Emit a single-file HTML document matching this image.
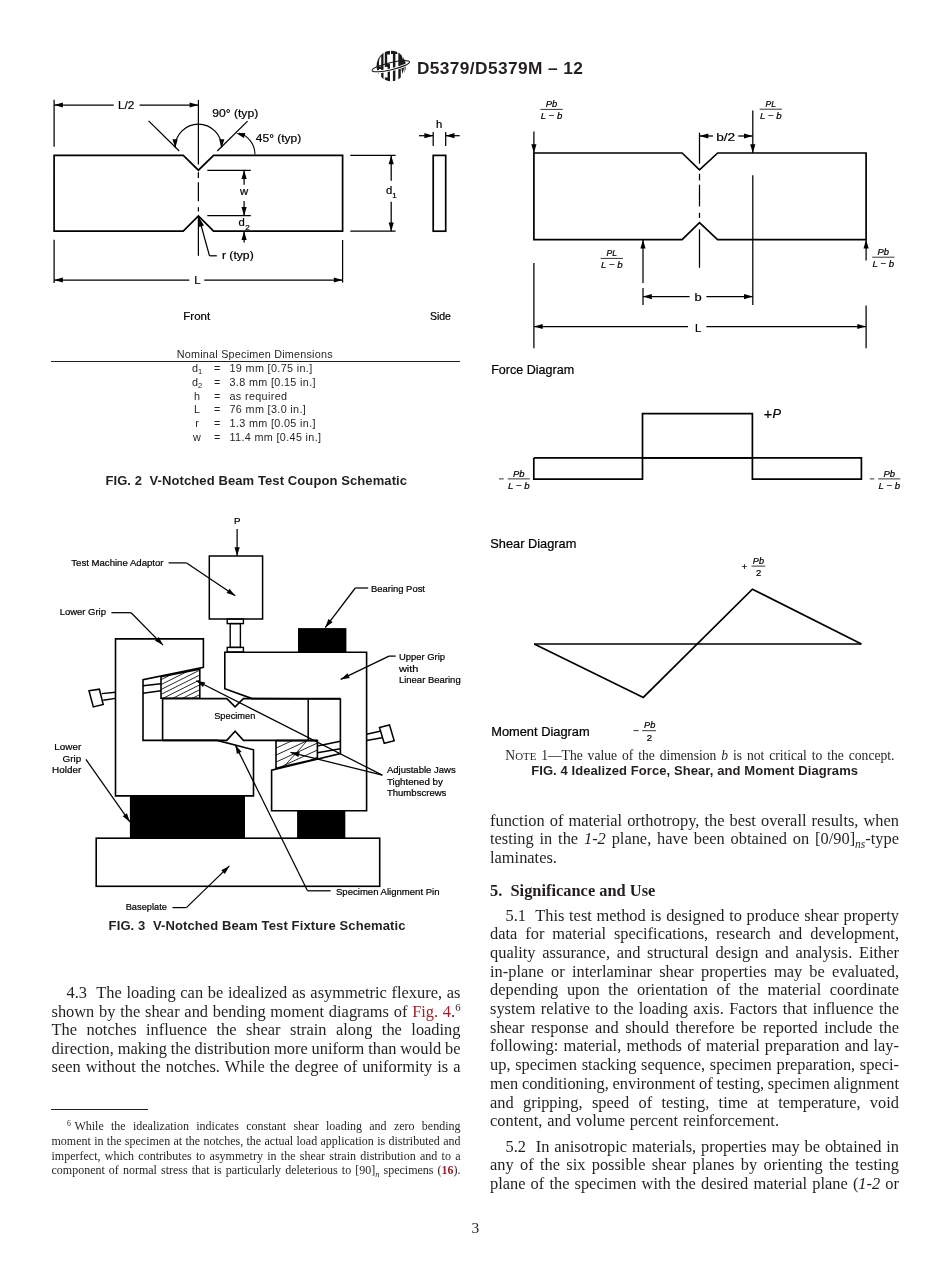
<!DOCTYPE html>
<html><head><meta charset="utf-8">
<style>
*{margin:0;padding:0;box-sizing:border-box}
html,body{width:950px;height:1272px;background:#fff;overflow:hidden}
body{position:relative;color:#231f20;font-family:"Liberation Serif",serif}
.a{position:absolute;white-space:nowrap}
#wrap{position:absolute;left:0;top:0;width:950px;height:1272px;will-change:transform}
.t{position:absolute;font-family:"Liberation Serif",serif;font-size:16.4px;line-height:18px;height:18px;white-space:nowrap;text-align:justify;text-align-last:justify}
.t.l{text-align:left;text-align-last:left}
.lc{left:51.5px;width:409px}
.rc{left:490px;width:409px}
.fn{position:absolute;font-family:"Liberation Serif",serif;font-size:12px;line-height:14px;height:14px;white-space:nowrap;text-align:justify;text-align-last:justify;left:51.5px;width:409px}
.sans{font-family:"Liberation Sans",sans-serif}
.red{color:#9e1f2a}
sup.s{font-size:0.65em;vertical-align:0;position:relative;top:-0.5em}
sub.s{font-size:0.7em;vertical-align:0;position:relative;top:0.3em}
.hd{position:absolute;font-family:"Liberation Serif",serif;font-weight:bold;font-size:16.4px;line-height:18px;height:18px;white-space:nowrap}
svg{position:absolute;left:0;top:0}
</style></head><body><div id="wrap">

<svg width="950" height="1272" viewBox="0 0 950 1272" stroke="#000" fill="none" stroke-linecap="butt">
<polygon points="54.1,155.4 183.3,155.4 198.4,170.2 213.6,155.4 342.6,155.4 342.6,231.2 213.6,231.2 198.4,216 183.2,231.2 54.1,231.2" stroke-width="1.7" fill="none"/>
<line x1="54.1" y1="99.7" x2="54.1" y2="146.8" stroke-width="1.25"/>
<line x1="113.7" y1="105" x2="54.1" y2="105" stroke-width="1.25"/>
<polygon points="54.10,105.00 62.90,102.40 62.90,107.60" fill="#000" stroke="none"/>
<line x1="139.6" y1="105" x2="198.4" y2="105" stroke-width="1.25"/>
<polygon points="198.40,105.00 189.60,107.60 189.60,102.40" fill="#000" stroke="none"/>
<text x="118" y="108.7" font-size="11.3" text-anchor="start" font-weight="normal" font-family="Liberation Sans" textLength="16.3" lengthAdjust="spacingAndGlyphs" stroke="#000" stroke-width="0.22" fill="#000">L/2</text>
<line x1="198.4" y1="100.1" x2="198.4" y2="164.5" stroke-width="1.25"/>
<line x1="198.4" y1="172.2" x2="198.4" y2="178.1" stroke-width="1.25"/>
<line x1="198.4" y1="182.3" x2="198.4" y2="201.3" stroke-width="1.25"/>
<line x1="198.4" y1="207.2" x2="198.4" y2="211.5" stroke-width="1.25"/>
<line x1="198.4" y1="216" x2="198.4" y2="255.8" stroke-width="1.25"/>
<line x1="148.6" y1="120.9" x2="179.2" y2="151" stroke-width="1.25"/>
<line x1="217.3" y1="151" x2="247.6" y2="121.1" stroke-width="1.25"/>
<path d="M175.2,147.3 A23.2,23.2 0 1 1 221.6,147.3" stroke-width="1.25" fill="none"/>
<polygon points="175.30,148.00 172.44,139.28 177.63,139.13" fill="#000" stroke="none"/>
<polygon points="221.50,148.00 219.17,139.13 224.36,139.28" fill="#000" stroke="none"/>
<text x="212.2" y="116.7" font-size="11.3" text-anchor="start" font-weight="normal" font-family="Liberation Sans" textLength="46" lengthAdjust="spacingAndGlyphs" stroke="#000" stroke-width="0.22" fill="#000">90° (typ)</text>
<path d="M255,154.6 C255,145 249,136 239,133" stroke-width="1.1" fill="none"/>
<polygon points="236.20,133.20 245.38,133.12 243.95,138.12" fill="#000" stroke="none"/>
<text x="255.8" y="141.5" font-size="11.3" text-anchor="start" font-weight="normal" font-family="Liberation Sans" textLength="45.5" lengthAdjust="spacingAndGlyphs" stroke="#000" stroke-width="0.22" fill="#000">45° (typ)</text>
<line x1="207.3" y1="170.3" x2="250.8" y2="170.3" stroke-width="1.25"/>
<line x1="207.3" y1="215.7" x2="250.8" y2="215.7" stroke-width="1.25"/>
<line x1="244.1" y1="184.8" x2="244.1" y2="170.3" stroke-width="1.25"/>
<polygon points="244.10,170.30 246.70,179.10 241.50,179.10" fill="#000" stroke="none"/>
<line x1="244.1" y1="201.1" x2="244.1" y2="215.7" stroke-width="1.25"/>
<polygon points="244.10,215.70 241.50,206.90 246.70,206.90" fill="#000" stroke="none"/>
<line x1="244.1" y1="242.5" x2="244.1" y2="231.2" stroke-width="1.25"/>
<polygon points="244.10,231.20 246.70,240.00 241.50,240.00" fill="#000" stroke="none"/>
<text x="244.1" y="195.4" font-size="11.3" text-anchor="middle" font-weight="normal" font-family="Liberation Sans" stroke="#000" stroke-width="0.22" fill="#000">w</text>
<text x="238.6" y="226.2" font-size="11.3" text-anchor="start" font-weight="normal" font-family="Liberation Sans" stroke="#000" stroke-width="0.22" fill="#000">d</text>
<text x="245.3" y="229.6" font-size="8" text-anchor="start" font-weight="normal" font-family="Liberation Sans" stroke="#000" stroke-width="0.22" fill="#000">2</text>
<line x1="198.9" y1="217.5" x2="209.5" y2="255.8" stroke-width="1.25"/>
<line x1="209.5" y1="255.8" x2="216.8" y2="255.8" stroke-width="1.25"/>
<polygon points="199.20,217.80 204.04,225.60 199.03,226.97" fill="#000" stroke="none"/>
<text x="221.9" y="258.9" font-size="11.3" text-anchor="start" font-weight="normal" font-family="Liberation Sans" textLength="31.8" lengthAdjust="spacingAndGlyphs" stroke="#000" stroke-width="0.22" fill="#000">r (typ)</text>
<line x1="54.1" y1="239.8" x2="54.1" y2="283" stroke-width="1.25"/>
<line x1="342.6" y1="240" x2="342.6" y2="282.6" stroke-width="1.25"/>
<line x1="189.3" y1="280" x2="54.1" y2="280" stroke-width="1.25"/>
<polygon points="54.10,280.00 62.90,277.40 62.90,282.60" fill="#000" stroke="none"/>
<line x1="204.2" y1="280" x2="342.6" y2="280" stroke-width="1.25"/>
<polygon points="342.60,280.00 333.80,282.60 333.80,277.40" fill="#000" stroke="none"/>
<text x="194.2" y="284.2" font-size="11.3" text-anchor="start" font-weight="normal" font-family="Liberation Sans" stroke="#000" stroke-width="0.22" fill="#000">L</text>
<line x1="350.3" y1="155.4" x2="395.6" y2="155.4" stroke-width="1.25"/>
<line x1="350.3" y1="231.2" x2="395.6" y2="231.2" stroke-width="1.25"/>
<line x1="391.2" y1="180.8" x2="391.2" y2="155.4" stroke-width="1.25"/>
<polygon points="391.20,155.40 393.80,164.20 388.60,164.20" fill="#000" stroke="none"/>
<line x1="391.2" y1="201.7" x2="391.2" y2="231.2" stroke-width="1.25"/>
<polygon points="391.20,231.20 388.60,222.40 393.80,222.40" fill="#000" stroke="none"/>
<text x="386" y="194.3" font-size="11.3" text-anchor="start" font-weight="normal" font-family="Liberation Sans" stroke="#000" stroke-width="0.22" fill="#000">d</text>
<text x="392.3" y="197.6" font-size="8" text-anchor="start" font-weight="normal" font-family="Liberation Sans" stroke="#000" stroke-width="0.22" fill="#000">1</text>
<rect x="433.2" y="155.4" width="12.5" height="75.79999999999998" stroke-width="1.7" fill="none"/>
<line x1="433.2" y1="132" x2="433.2" y2="146" stroke-width="1.25"/>
<line x1="445.7" y1="132" x2="445.7" y2="146" stroke-width="1.25"/>
<line x1="419" y1="135.7" x2="433.2" y2="135.7" stroke-width="1.25"/>
<polygon points="433.20,135.70 424.40,138.30 424.40,133.10" fill="#000" stroke="none"/>
<line x1="459.7" y1="135.7" x2="445.7" y2="135.7" stroke-width="1.25"/>
<polygon points="445.70,135.70 454.50,133.10 454.50,138.30" fill="#000" stroke="none"/>
<text x="439.2" y="127.7" font-size="11.3" text-anchor="middle" font-weight="normal" font-family="Liberation Sans" stroke="#000" stroke-width="0.22" fill="#000">h</text>
<text x="183.3" y="319.9" font-size="11.3" text-anchor="start" font-weight="normal" font-family="Liberation Sans" textLength="26.8" lengthAdjust="spacingAndGlyphs" stroke="#000" stroke-width="0.22" fill="#000">Front</text>
<text x="429.9" y="319.9" font-size="11.3" text-anchor="start" font-weight="normal" font-family="Liberation Sans" textLength="21.1" lengthAdjust="spacingAndGlyphs" stroke="#000" stroke-width="0.22" fill="#000">Side</text>
<polygon points="533.9,153 682.1,153 699.5,169.9 717.7,153 866.1,153 866.1,239.7 717.6,239.7 699.5,222.6 682.1,239.7 533.9,239.7" stroke-width="1.7" fill="none"/>
<line x1="699.5" y1="132.6" x2="699.5" y2="163.6" stroke-width="1.25"/>
<line x1="699.5" y1="173.7" x2="699.5" y2="180.4" stroke-width="1.25"/>
<line x1="699.5" y1="184.7" x2="699.5" y2="206.5" stroke-width="1.25"/>
<line x1="699.5" y1="212.8" x2="699.5" y2="217.9" stroke-width="1.25"/>
<line x1="699.5" y1="229.3" x2="699.5" y2="267.8" stroke-width="1.25"/>
<line x1="713" y1="136" x2="699.5" y2="136" stroke-width="1.25"/>
<polygon points="699.50,136.00 708.30,133.40 708.30,138.60" fill="#000" stroke="none"/>
<line x1="738.3" y1="136" x2="752.8" y2="136" stroke-width="1.25"/>
<polygon points="752.80,136.00 744.00,138.60 744.00,133.40" fill="#000" stroke="none"/>
<text x="716.2" y="140.5" font-size="11.3" text-anchor="start" font-weight="normal" font-family="Liberation Sans" textLength="19" lengthAdjust="spacingAndGlyphs" stroke="#000" stroke-width="0.22" fill="#000">b/2</text>
<line x1="533.9" y1="131.5" x2="533.9" y2="153" stroke-width="1.25"/>
<polygon points="533.90,153.00 531.30,144.20 536.50,144.20" fill="#000" stroke="none"/>
<line x1="752.8" y1="110.4" x2="752.8" y2="153" stroke-width="1.25"/>
<polygon points="752.80,153.00 750.20,144.20 755.40,144.20" fill="#000" stroke="none"/>
<line x1="752.8" y1="175.3" x2="752.8" y2="305" stroke-width="1.25"/>
<line x1="643" y1="283" x2="643" y2="239.7" stroke-width="1.25"/>
<polygon points="643.00,239.70 645.60,248.50 640.40,248.50" fill="#000" stroke="none"/>
<line x1="643" y1="288" x2="643" y2="305" stroke-width="1.25"/>
<line x1="866.1" y1="260.5" x2="866.1" y2="239.7" stroke-width="1.25"/>
<polygon points="866.10,239.70 868.70,248.50 863.50,248.50" fill="#000" stroke="none"/>
<line x1="689.6" y1="296.6" x2="643" y2="296.6" stroke-width="1.25"/>
<polygon points="643.00,296.60 651.80,294.00 651.80,299.20" fill="#000" stroke="none"/>
<line x1="706.4" y1="296.6" x2="752.8" y2="296.6" stroke-width="1.25"/>
<polygon points="752.80,296.60 744.00,299.20 744.00,294.00" fill="#000" stroke="none"/>
<text x="694.4" y="301" font-size="11.3" text-anchor="start" font-weight="normal" font-family="Liberation Sans" textLength="7.2" lengthAdjust="spacingAndGlyphs" stroke="#000" stroke-width="0.22" fill="#000">b</text>
<line x1="533.9" y1="263" x2="533.9" y2="348.3" stroke-width="1.25"/>
<line x1="866.1" y1="305.4" x2="866.1" y2="348.3" stroke-width="1.25"/>
<line x1="688" y1="326.5" x2="533.9" y2="326.5" stroke-width="1.25"/>
<polygon points="533.90,326.50 542.70,323.90 542.70,329.10" fill="#000" stroke="none"/>
<line x1="706.4" y1="326.5" x2="866.1" y2="326.5" stroke-width="1.25"/>
<polygon points="866.10,326.50 857.30,329.10 857.30,323.90" fill="#000" stroke="none"/>
<text x="695" y="331.6" font-size="11.3" text-anchor="start" font-weight="normal" font-family="Liberation Sans" stroke="#000" stroke-width="0.22" fill="#000">L</text>
<line x1="540.45" y1="109.4" x2="562.75" y2="109.4" stroke-width="0.8"/>
<text x="551.6" y="107.10000000000001" font-size="9.5" text-anchor="middle" font-weight="normal" font-family="Liberation Sans" textLength="11.5" lengthAdjust="spacingAndGlyphs" font-style="italic" stroke="#000" stroke-width="0.22" fill="#000">Pb</text>
<text x="551.6" y="119.4" font-size="9.5" text-anchor="middle" font-weight="normal" font-family="Liberation Sans" textLength="21.5" lengthAdjust="spacingAndGlyphs" font-style="italic" stroke="#000" stroke-width="0.22" fill="#000">L − b</text>
<line x1="759.65" y1="109.2" x2="781.9499999999999" y2="109.2" stroke-width="0.8"/>
<text x="770.8" y="106.9" font-size="9.5" text-anchor="middle" font-weight="normal" font-family="Liberation Sans" textLength="10.5" lengthAdjust="spacingAndGlyphs" font-style="italic" stroke="#000" stroke-width="0.22" fill="#000">PL</text>
<text x="770.8" y="119.2" font-size="9.5" text-anchor="middle" font-weight="normal" font-family="Liberation Sans" textLength="21.5" lengthAdjust="spacingAndGlyphs" font-style="italic" stroke="#000" stroke-width="0.22" fill="#000">L − b</text>
<line x1="600.65" y1="258.4" x2="622.9499999999999" y2="258.4" stroke-width="0.8"/>
<text x="611.8" y="256.09999999999997" font-size="9.5" text-anchor="middle" font-weight="normal" font-family="Liberation Sans" textLength="10.5" lengthAdjust="spacingAndGlyphs" font-style="italic" stroke="#000" stroke-width="0.22" fill="#000">PL</text>
<text x="611.8" y="268.4" font-size="9.5" text-anchor="middle" font-weight="normal" font-family="Liberation Sans" textLength="21.5" lengthAdjust="spacingAndGlyphs" font-style="italic" stroke="#000" stroke-width="0.22" fill="#000">L − b</text>
<line x1="872.15" y1="257.2" x2="894.4499999999999" y2="257.2" stroke-width="0.8"/>
<text x="883.3" y="254.89999999999998" font-size="9.5" text-anchor="middle" font-weight="normal" font-family="Liberation Sans" textLength="11.5" lengthAdjust="spacingAndGlyphs" font-style="italic" stroke="#000" stroke-width="0.22" fill="#000">Pb</text>
<text x="883.3" y="267.2" font-size="9.5" text-anchor="middle" font-weight="normal" font-family="Liberation Sans" textLength="21.5" lengthAdjust="spacingAndGlyphs" font-style="italic" stroke="#000" stroke-width="0.22" fill="#000">L − b</text>
<text x="491.2" y="374.2" font-size="12.4" text-anchor="start" font-weight="normal" font-family="Liberation Sans" textLength="83" lengthAdjust="spacingAndGlyphs" stroke="#000" stroke-width="0.22" fill="#000">Force Diagram</text>
<polyline points="533.8,457.9 533.8,479.1 642.5,479.1 642.5,413.7 752.4,413.7 752.4,479.1 861.4,479.1 861.4,457.9 533.8,457.9" stroke-width="1.7" fill="none"/>
<line x1="642.5" y1="457.9" x2="752.4" y2="457.9" stroke-width="1.7"/>
<text x="763.8" y="419" font-size="14.5" text-anchor="start" font-weight="normal" font-family="Liberation Sans" textLength="8.4" lengthAdjust="spacingAndGlyphs" stroke="#000" stroke-width="0.22" fill="#000">+</text>
<text x="772.5" y="418.3" font-size="12.8" text-anchor="start" font-weight="normal" font-family="Liberation Sans" font-style="italic" stroke="#000" stroke-width="0.22" fill="#000">P</text>
<line x1="499" y1="478.9" x2="503.7" y2="478.9" stroke-width="0.8"/>
<line x1="507.79999999999995" y1="478.9" x2="529.8" y2="478.9" stroke-width="0.8"/>
<text x="518.8" y="476.59999999999997" font-size="9.5" text-anchor="middle" font-weight="normal" font-family="Liberation Sans" textLength="11.5" lengthAdjust="spacingAndGlyphs" font-style="italic" stroke="#000" stroke-width="0.22" fill="#000">Pb</text>
<text x="518.8" y="488.9" font-size="9.5" text-anchor="middle" font-weight="normal" font-family="Liberation Sans" textLength="21.5" lengthAdjust="spacingAndGlyphs" font-style="italic" stroke="#000" stroke-width="0.22" fill="#000">L − b</text>
<line x1="869.8" y1="478.9" x2="874.3" y2="478.9" stroke-width="0.8"/>
<line x1="878.3" y1="478.9" x2="900.3" y2="478.9" stroke-width="0.8"/>
<text x="889.3" y="476.59999999999997" font-size="9.5" text-anchor="middle" font-weight="normal" font-family="Liberation Sans" textLength="11.5" lengthAdjust="spacingAndGlyphs" font-style="italic" stroke="#000" stroke-width="0.22" fill="#000">Pb</text>
<text x="889.3" y="488.9" font-size="9.5" text-anchor="middle" font-weight="normal" font-family="Liberation Sans" textLength="21.5" lengthAdjust="spacingAndGlyphs" font-style="italic" stroke="#000" stroke-width="0.22" fill="#000">L − b</text>
<text x="490.3" y="547.9" font-size="12.4" text-anchor="start" font-weight="normal" font-family="Liberation Sans" textLength="86" lengthAdjust="spacingAndGlyphs" stroke="#000" stroke-width="0.22" fill="#000">Shear Diagram</text>
<line x1="534.2" y1="644" x2="861.4" y2="644" stroke-width="1.7"/>
<polyline points="534.2,644 643.3,697.4 752.4,589.2 861.4,644" stroke-width="1.7" fill="none"/>
<text x="744.4" y="569.8" font-size="9" text-anchor="middle" font-weight="normal" font-family="Liberation Sans" stroke="#000" stroke-width="0.22" fill="#000">+</text>
<line x1="751.5" y1="566.1" x2="765.3" y2="566.1" stroke-width="0.8"/>
<text x="758.4" y="564" font-size="9.5" text-anchor="middle" font-weight="normal" font-family="Liberation Sans" textLength="11.2" lengthAdjust="spacingAndGlyphs" font-style="italic" stroke="#000" stroke-width="0.22" fill="#000">Pb</text>
<text x="758.6" y="576" font-size="9.5" text-anchor="middle" font-weight="normal" font-family="Liberation Sans" stroke="#000" stroke-width="0.22" fill="#000">2</text>
<line x1="633.5" y1="730.6" x2="638.7" y2="730.6" stroke-width="0.8"/>
<line x1="642.1" y1="730.7" x2="656" y2="730.7" stroke-width="0.8"/>
<text x="649.7" y="728.4" font-size="9.5" text-anchor="middle" font-weight="normal" font-family="Liberation Sans" textLength="11.2" lengthAdjust="spacingAndGlyphs" font-style="italic" stroke="#000" stroke-width="0.22" fill="#000">Pb</text>
<text x="649.5" y="740.5" font-size="9.5" text-anchor="middle" font-weight="normal" font-family="Liberation Sans" stroke="#000" stroke-width="0.22" fill="#000">2</text>
<text x="491.2" y="735.5" font-size="12.4" text-anchor="start" font-weight="normal" font-family="Liberation Sans" textLength="98.5" lengthAdjust="spacingAndGlyphs" stroke="#000" stroke-width="0.22" fill="#000">Moment Diagram</text>
<rect x="209.3" y="556" width="53.3" height="63" stroke-width="1.5" fill="none"/>
<line x1="237.1" y1="528.9" x2="237.1" y2="556" stroke-width="1.25"/>
<polygon points="237.10,556.00 234.50,547.20 239.70,547.20" fill="#000" stroke="none"/>
<text x="237.3" y="523.5" font-size="9.8" text-anchor="middle" font-weight="normal" font-family="Liberation Sans" stroke="#000" stroke-width="0.22" fill="#000">P</text>
<rect x="227.2" y="619" width="16.2" height="4.6" stroke-width="1.4" fill="none"/>
<rect x="230.2" y="623.6" width="10.2" height="23.8" stroke-width="1.4" fill="none"/>
<rect x="227.2" y="647.4" width="16.2" height="4.6" stroke-width="1.4" fill="none"/>
<polygon points="115.5,638.9 203.4,638.9 203.4,667.4 143,679.7 143,740.4 217.2,740.4 253.5,749.8 253.5,795.9 115.5,795.9" stroke-width="1.6" fill="none"/>
<rect x="129.9" y="795.9" width="115.1" height="42.3" stroke-width="0" fill="#000"/>
<rect x="96.2" y="838.2" width="283.5" height="48.1" stroke-width="1.6" fill="none"/>
<rect x="297.1" y="810.8" width="48.2" height="27.4" stroke-width="0" fill="#000"/>
<rect x="298" y="628.1" width="48.4" height="24" stroke-width="0" fill="#000"/>
<polygon points="224.8,652.2 366.6,652.2 366.6,810.8 271.6,810.8 271.6,770.2 340.4,753.5 340.4,699 252.1,698.6 224.8,688.7" stroke-width="1.6" fill="none"/>
<polyline points="162.6,698.6 226.8,698.6 235.1,706.8 243.4,698.6 340.4,698.6" stroke-width="1.6" fill="none"/>
<polyline points="162.6,698.6 162.6,740.4" stroke-width="1.6" fill="none"/>
<polyline points="162.6,740.4 226.8,740.4 235.1,731.3 243.4,740.4 317.4,740.4" stroke-width="1.6" fill="none"/>
<line x1="308.2" y1="698.6" x2="308.2" y2="740.4" stroke-width="1.5"/>
<polyline points="161,676.6 199.8,669.3 199.8,698.2 161,698.2 161,676.6" stroke-width="1.6" fill="none"/>
<clipPath id="cj1"><polygon points="161,676.6 199.8,669.3 199.8,698.2 161,698.2"/></clipPath>
<g clip-path="url(#cj1)">
<line x1="158" y1="666.5" x2="203" y2="644.0" stroke-width="0.85"/>
<line x1="158" y1="671.4000000000001" x2="203" y2="648.9000000000001" stroke-width="0.85"/>
<line x1="158" y1="676.3000000000001" x2="203" y2="653.8000000000001" stroke-width="0.85"/>
<line x1="158" y1="681.2" x2="203" y2="658.7" stroke-width="0.85"/>
<line x1="158" y1="686.1" x2="203" y2="663.6" stroke-width="0.85"/>
<line x1="158" y1="691.0" x2="203" y2="668.5" stroke-width="0.85"/>
<line x1="158" y1="695.9000000000001" x2="203" y2="673.4000000000001" stroke-width="0.85"/>
<line x1="158" y1="700.8000000000001" x2="203" y2="678.3000000000001" stroke-width="0.85"/>
<line x1="158" y1="705.7" x2="203" y2="683.2" stroke-width="0.85"/>
<line x1="158" y1="710.6" x2="203" y2="688.1" stroke-width="0.85"/>
<line x1="158" y1="715.5" x2="203" y2="693.0" stroke-width="0.85"/>
<line x1="158" y1="720.4000000000001" x2="203" y2="697.9000000000001" stroke-width="0.85"/>
<line x1="158" y1="725.3000000000001" x2="203" y2="702.8000000000001" stroke-width="0.85"/>
</g>
<line x1="143" y1="685.8" x2="161" y2="683.7" stroke-width="1.4"/>
<line x1="143" y1="693.2" x2="161" y2="690.8" stroke-width="1.4"/>
<line x1="101.8" y1="693.6" x2="115.5" y2="692.2" stroke-width="1.4"/>
<line x1="103.2" y1="700.3" x2="115.5" y2="698.4" stroke-width="1.4"/>
<polygon points="89,690.8 99.4,689.2 103.2,704.5 93.3,706.9" stroke-width="1.5" fill="none"/>
<polyline points="276,740.6 317.4,740.6 317.4,758.7 276,768.2 276,740.6" stroke-width="1.6" fill="none"/>
<clipPath id="cj2"><polygon points="276,740.6 317.4,740.6 317.4,758.7 276,768.2"/></clipPath>
<g clip-path="url(#cj2)">
<line x1="273" y1="728.48" x2="320" y2="706.86" stroke-width="0.85"/>
<line x1="273" y1="735.48" x2="320" y2="713.86" stroke-width="0.85"/>
<line x1="273" y1="742.48" x2="320" y2="720.86" stroke-width="0.85"/>
<line x1="273" y1="749.48" x2="320" y2="727.86" stroke-width="0.85"/>
<line x1="273" y1="756.48" x2="320" y2="734.86" stroke-width="0.85"/>
<line x1="273" y1="763.48" x2="320" y2="741.86" stroke-width="0.85"/>
<line x1="273" y1="770.48" x2="320" y2="748.86" stroke-width="0.85"/>
<line x1="273" y1="777.48" x2="320" y2="755.86" stroke-width="0.85"/>
<line x1="273" y1="784.48" x2="320" y2="762.86" stroke-width="0.85"/>
<line x1="273" y1="791.48" x2="320" y2="769.86" stroke-width="0.85"/>
<line x1="284.3" y1="766.2" x2="306.2" y2="741.8" stroke-width="0.85"/>
</g>
<line x1="317.4" y1="746" x2="340.4" y2="741.3" stroke-width="1.4"/>
<line x1="317.4" y1="752.8" x2="340.4" y2="748.7" stroke-width="1.4"/>
<line x1="366.6" y1="734.2" x2="381" y2="731" stroke-width="1.4"/>
<line x1="366.6" y1="740.5" x2="382" y2="737.7" stroke-width="1.4"/>
<polygon points="379.5,727.5 389.5,725 394.2,740.8 384.2,743.3" stroke-width="1.5" fill="none"/>
<line x1="168.6" y1="562.9" x2="186.6" y2="562.9" stroke-width="1.25"/>
<line x1="186.6" y1="562.9" x2="235.3" y2="595.8" stroke-width="1.25"/>
<polygon points="235.30,595.80 226.55,593.03 229.46,588.72" fill="#000" stroke="none"/>
<text x="71.3" y="565.7" font-size="9.9" text-anchor="start" font-weight="normal" font-family="Liberation Sans" textLength="92.2" lengthAdjust="spacingAndGlyphs" stroke="#000" stroke-width="0.22" fill="#000">Test Machine Adaptor</text>
<line x1="111.4" y1="612.7" x2="131.1" y2="612.7" stroke-width="1.25"/>
<line x1="131.1" y1="612.7" x2="163" y2="645.1" stroke-width="1.25"/>
<polygon points="163.00,645.10 154.97,640.65 158.68,637.01" fill="#000" stroke="none"/>
<text x="59.7" y="615" font-size="9.9" text-anchor="start" font-weight="normal" font-family="Liberation Sans" textLength="46.3" lengthAdjust="spacingAndGlyphs" stroke="#000" stroke-width="0.22" fill="#000">Lower Grip</text>
<line x1="355.3" y1="588" x2="368.2" y2="588" stroke-width="1.25"/>
<line x1="355.3" y1="588" x2="325.2" y2="627.6" stroke-width="1.25"/>
<polygon points="325.20,627.60 328.46,619.02 332.60,622.17" fill="#000" stroke="none"/>
<text x="371" y="591.8" font-size="9.9" text-anchor="start" font-weight="normal" font-family="Liberation Sans" textLength="54" lengthAdjust="spacingAndGlyphs" stroke="#000" stroke-width="0.22" fill="#000">Bearing Post</text>
<line x1="389" y1="656.1" x2="395.7" y2="656.1" stroke-width="1.25"/>
<line x1="389" y1="656.1" x2="340.7" y2="679.4" stroke-width="1.25"/>
<polygon points="340.70,679.40 347.50,673.23 349.76,677.92" fill="#000" stroke="none"/>
<text x="398.9" y="660" font-size="9.9" text-anchor="start" font-weight="normal" font-family="Liberation Sans" textLength="46.1" lengthAdjust="spacingAndGlyphs" stroke="#000" stroke-width="0.22" fill="#000">Upper Grip</text>
<text x="398.9" y="671.8" font-size="9.9" text-anchor="start" font-weight="normal" font-family="Liberation Sans" textLength="19.5" lengthAdjust="spacingAndGlyphs" stroke="#000" stroke-width="0.22" fill="#000">with</text>
<text x="398.9" y="683.2" font-size="9.9" text-anchor="start" font-weight="normal" font-family="Liberation Sans" textLength="61.8" lengthAdjust="spacingAndGlyphs" stroke="#000" stroke-width="0.22" fill="#000">Linear Bearing</text>
<text x="81.2" y="750.1" font-size="9.9" text-anchor="end" font-weight="normal" font-family="Liberation Sans" stroke="#000" stroke-width="0.22" fill="#000">Lower</text>
<text x="81.2" y="761.7" font-size="9.9" text-anchor="end" font-weight="normal" font-family="Liberation Sans" stroke="#000" stroke-width="0.22" fill="#000">Grip</text>
<text x="81.2" y="773.3" font-size="9.9" text-anchor="end" font-weight="normal" font-family="Liberation Sans" stroke="#000" stroke-width="0.22" fill="#000">Holder</text>
<line x1="85.9" y1="759.4" x2="129.9" y2="821.9" stroke-width="1.25"/>
<polygon points="129.90,821.90 122.71,816.20 126.96,813.21" fill="#000" stroke="none"/>
<text x="125.7" y="909.9" font-size="9.9" text-anchor="start" font-weight="normal" font-family="Liberation Sans" textLength="41.2" lengthAdjust="spacingAndGlyphs" stroke="#000" stroke-width="0.22" fill="#000">Baseplate</text>
<line x1="172.5" y1="907.6" x2="186.4" y2="907.6" stroke-width="1.25"/>
<line x1="186.4" y1="907.6" x2="229.4" y2="865.9" stroke-width="1.25"/>
<polygon points="229.40,865.90 224.89,873.89 221.27,870.16" fill="#000" stroke="none"/>
<text x="214.2" y="719.2" font-size="9.9" text-anchor="start" font-weight="normal" font-family="Liberation Sans" textLength="41.1" lengthAdjust="spacingAndGlyphs" stroke="#000" stroke-width="0.22" fill="#000">Specimen</text>
<line x1="235.3" y1="744.9" x2="307.5" y2="890.8" stroke-width="1.25"/>
<polygon points="235.30,744.90 241.54,751.63 236.88,753.94" fill="#000" stroke="none"/>
<line x1="307.5" y1="890.8" x2="330.6" y2="890.8" stroke-width="1.25"/>
<text x="336" y="894.8" font-size="9.9" text-anchor="start" font-weight="normal" font-family="Liberation Sans" textLength="103.5" lengthAdjust="spacingAndGlyphs" stroke="#000" stroke-width="0.22" fill="#000">Specimen Alignment Pin</text>
<line x1="382.3" y1="775.1" x2="196.3" y2="680.8" stroke-width="1.25"/>
<polygon points="196.30,680.80 205.32,682.46 202.97,687.10" fill="#000" stroke="none"/>
<line x1="382.3" y1="775.1" x2="290.5" y2="752.4" stroke-width="1.25"/>
<polygon points="290.50,752.40 299.67,751.99 298.42,757.04" fill="#000" stroke="none"/>
<text x="386.9" y="773.2" font-size="9.9" text-anchor="start" font-weight="normal" font-family="Liberation Sans" textLength="68.8" lengthAdjust="spacingAndGlyphs" stroke="#000" stroke-width="0.22" fill="#000">Adjustable Jaws</text>
<text x="386.9" y="784.8" font-size="9.9" text-anchor="start" font-weight="normal" font-family="Liberation Sans" textLength="56" lengthAdjust="spacingAndGlyphs" stroke="#000" stroke-width="0.22" fill="#000">Tightened by</text>
<text x="386.9" y="796.4" font-size="9.9" text-anchor="start" font-weight="normal" font-family="Liberation Sans" textLength="59.5" lengthAdjust="spacingAndGlyphs" stroke="#000" stroke-width="0.22" fill="#000">Thumbscrews</text>
</svg>
<svg style="position:absolute;left:0;top:0" width="950" height="120" viewBox="0 0 950 120">
<defs><clipPath id="lc"><ellipse cx="391.2" cy="66" rx="14.6" ry="15.2"/></clipPath>
<clipPath id="lf"><rect x="360" y="66" width="60" height="30" transform="rotate(-13 390.8 66)"/></clipPath></defs>
<ellipse cx="390.8" cy="66.2" rx="19.2" ry="3.6" transform="rotate(-13 390.8 66.2)" fill="none" stroke="#1a1a1a" stroke-width="1.1"/>
<g clip-path="url(#lc)" fill="#1a1a1a">
<path d="M376,82 L376,60 Q377,52 383.5,50 L383.5,82 L381.2,82 L381.2,69 L379,69 L379,82 Z M379,66.5 L381.2,66.5 L381.2,56 Q379.3,58 379,62 Z"/>
<path d="M384.8,50 L390,50 L390,54.5 L387.2,54.5 L387.2,63.5 L390,63.5 L390,82 L384.8,82 L384.8,77.5 L387.6,77.5 L387.6,67 L384.8,67 Z"/>
<path d="M391,50 L397.3,50 L397.3,54 L395.4,54 L395.4,82 L392.9,82 L392.9,54 L391,54 Z"/>
<path d="M398.3,50 L400.5,50 L403,60 L404.5,52 L407,52 L407,82 L404.6,82 L404.6,66 L402.5,74 L400.8,66 L400.8,82 L398.3,82 Z"/>
</g>
<g clip-path="url(#lf)">
<ellipse cx="390.8" cy="66.2" rx="19.2" ry="3.6" transform="rotate(-13 390.8 66.2)" fill="none" stroke="#fff" stroke-width="2.8"/>
<ellipse cx="390.8" cy="66.2" rx="19.2" ry="3.6" transform="rotate(-13 390.8 66.2)" fill="none" stroke="#1a1a1a" stroke-width="1.1"/>
</g>
</svg>
<!-- header -->
<div class="a sans" style="left:416.9px;top:58.3px;font-size:17.3px;letter-spacing:0.41px;font-weight:bold;line-height:20px;color:#231f20">D5379/D5379M – 12</div>

<!-- left col text: baseline = top + 14 -->
<div class="t lc" style="top:983.6px;padding-left:15px">4.3&nbsp; The loading can be idealized as asymmetric flexure, as</div>
<div class="t lc" style="top:1002.6px">shown by the shear and bending moment diagrams of <span class="red">Fig. 4</span>.<sup class="s">6</sup></div>
<div class="t lc" style="top:1021.1px">The notches influence the shear strain along the loading</div>
<div class="t lc" style="top:1039.6px;word-spacing:-1px">direction, making the distribution more uniform than would be</div>
<div class="t lc" style="top:1058.1px">seen without the notches. While the degree of uniformity is a</div>

<!-- footnote -->
<div class="a" style="left:51.3px;top:1108.8px;width:97px;height:1px;background:#231f20"></div>
<div class="fn" style="top:1119px;padding-left:15.5px"><sup class="s">6</sup><span style="display:inline-block;width:3.5px"></span>While the idealization indicates constant shear loading and zero bending</div>
<div class="fn" style="top:1134px">moment in the specimen at the notches, the actual load application is distributed and</div>
<div class="fn" style="top:1148.5px">imperfect, which contributes to asymmetry in the shear strain distribution and to a</div>
<div class="fn" style="top:1163px">component of normal stress that is particularly deleterious to [90]<sub class="s"><i>n</i></sub> specimens (<b class="red">16</b>).</div>

<!-- right col text -->
<div class="t rc" style="top:811.6px">function of material orthotropy, the best overall results, when</div>
<div class="t rc" style="top:830.1px">testing in the <i>1-2</i> plane, have been obtained on [0/90]<sub class="s"><i>ns</i></sub>-type</div>
<div class="t rc l" style="top:848.6px">laminates.</div>
<div class="hd" style="left:490px;top:881.5px">5.&nbsp; Significance and Use</div>
<div class="t rc" style="top:906.5px;padding-left:15.5px">5.1&nbsp; This test method is designed to produce shear property</div>
<div class="t rc" style="top:925.2px">data for material specifications, research and development,</div>
<div class="t rc" style="top:943.9px">quality assurance, and structural design and analysis. Either</div>
<div class="t rc" style="top:962.6px">in-plane or interlaminar shear properties may be evaluated,</div>
<div class="t rc" style="top:981.3px">depending upon the orientation of the material coordinate</div>
<div class="t rc" style="top:1000.0px">system relative to the loading axis. Factors that influence the</div>
<div class="t rc" style="top:1018.7px">shear response and should therefore be reported include the</div>
<div class="t rc" style="top:1037.4px">following: material, methods of material preparation and lay-</div>
<div class="t rc" style="top:1056.1px">up, specimen stacking sequence, specimen preparation, speci-</div>
<div class="t rc" style="top:1074.8px;word-spacing:-1px">men conditioning, environment of testing, specimen alignment</div>
<div class="t rc" style="top:1093.5px">and gripping, speed of testing, time at temperature, void</div>
<div class="t rc l" style="top:1112.2px;word-spacing:0.8px">content, and volume percent reinforcement.</div>
<div class="t rc" style="top:1137.9px;padding-left:15.5px">5.2&nbsp; In anisotropic materials, properties may be obtained in</div>
<div class="t rc" style="top:1156.4px">any of the six possible shear planes by orienting the testing</div>
<div class="t rc" style="top:1174.9px">plane of the specimen with the desired material plane (<i>1-2</i> or</div>

<div class="a" style="left:51.3px;top:360.8px;width:409px;height:1px;background:#231f20"></div>
<div class="a sans" style="left:176.8px;top:349.46px;font-size:10.8px;line-height:10.8px;letter-spacing:0.22px">Nominal Specimen Dimensions</div>
<div class="a sans" style="left:180px;width:34px;text-align:center;top:363.16px;font-size:10.8px;line-height:10.8px">d<sub class="s">1</sub></div>
<div class="a sans" style="left:214px;top:363.16px;font-size:10.8px;line-height:10.8px;">=</div>
<div class="a sans" style="left:229.5px;top:363.16px;font-size:10.8px;line-height:10.8px;letter-spacing:0.35px">19 mm [0.75 in.]</div>
<div class="a sans" style="left:180px;width:34px;text-align:center;top:376.91px;font-size:10.8px;line-height:10.8px">d<sub class="s">2</sub></div>
<div class="a sans" style="left:214px;top:376.91px;font-size:10.8px;line-height:10.8px;">=</div>
<div class="a sans" style="left:229.5px;top:376.91px;font-size:10.8px;line-height:10.8px;letter-spacing:0.35px">3.8 mm [0.15 in.]</div>
<div class="a sans" style="left:180px;width:34px;text-align:center;top:390.66px;font-size:10.8px;line-height:10.8px">h</div>
<div class="a sans" style="left:214px;top:390.66px;font-size:10.8px;line-height:10.8px;">=</div>
<div class="a sans" style="left:229.5px;top:390.66px;font-size:10.8px;line-height:10.8px;letter-spacing:0.35px">as required</div>
<div class="a sans" style="left:180px;width:34px;text-align:center;top:404.41px;font-size:10.8px;line-height:10.8px">L</div>
<div class="a sans" style="left:214px;top:404.41px;font-size:10.8px;line-height:10.8px;">=</div>
<div class="a sans" style="left:229.5px;top:404.41px;font-size:10.8px;line-height:10.8px;letter-spacing:0.35px">76 mm [3.0 in.]</div>
<div class="a sans" style="left:180px;width:34px;text-align:center;top:418.16px;font-size:10.8px;line-height:10.8px">r</div>
<div class="a sans" style="left:214px;top:418.16px;font-size:10.8px;line-height:10.8px;">=</div>
<div class="a sans" style="left:229.5px;top:418.16px;font-size:10.8px;line-height:10.8px;letter-spacing:0.35px">1.3 mm [0.05 in.]</div>
<div class="a sans" style="left:180px;width:34px;text-align:center;top:431.91px;font-size:10.8px;line-height:10.8px">w</div>
<div class="a sans" style="left:214px;top:431.91px;font-size:10.8px;line-height:10.8px;">=</div>
<div class="a sans" style="left:229.5px;top:431.91px;font-size:10.8px;line-height:10.8px;letter-spacing:0.35px">11.4 mm [0.45 in.]</div>
<div class="a sans" style="left:105.4px;top:474.00px;font-size:13px;line-height:13px;font-weight:bold;letter-spacing:0.1px">FIG. 2&nbsp; V-Notched Beam Test Coupon Schematic</div>
<div class="a sans" style="left:108.6px;top:919.20px;font-size:13px;line-height:13px;font-weight:bold;letter-spacing:0.12px">FIG. 3&nbsp; V-Notched Beam Test Fixture Schematic</div>
<div class="a sans" style="left:531.2px;top:764.30px;font-size:13px;line-height:13px;font-weight:bold;letter-spacing:0.08px">FIG. 4 Idealized Force, Shear, and Moment Diagrams</div>
<div class="a" style="left:505.3px;top:748.10px;font-family:'Liberation Serif',serif;font-size:13.6px;line-height:16px;word-spacing:1.5px">N<span style="font-size:10.9px">OTE</span> 1—The value of the dimension <i>b</i> is not critical to the concept.</div>
<!-- page number -->
<div class="a" style="left:471.5px;top:1218.5px;font-size:15.5px;line-height:18px">3</div>

</div></body></html>
